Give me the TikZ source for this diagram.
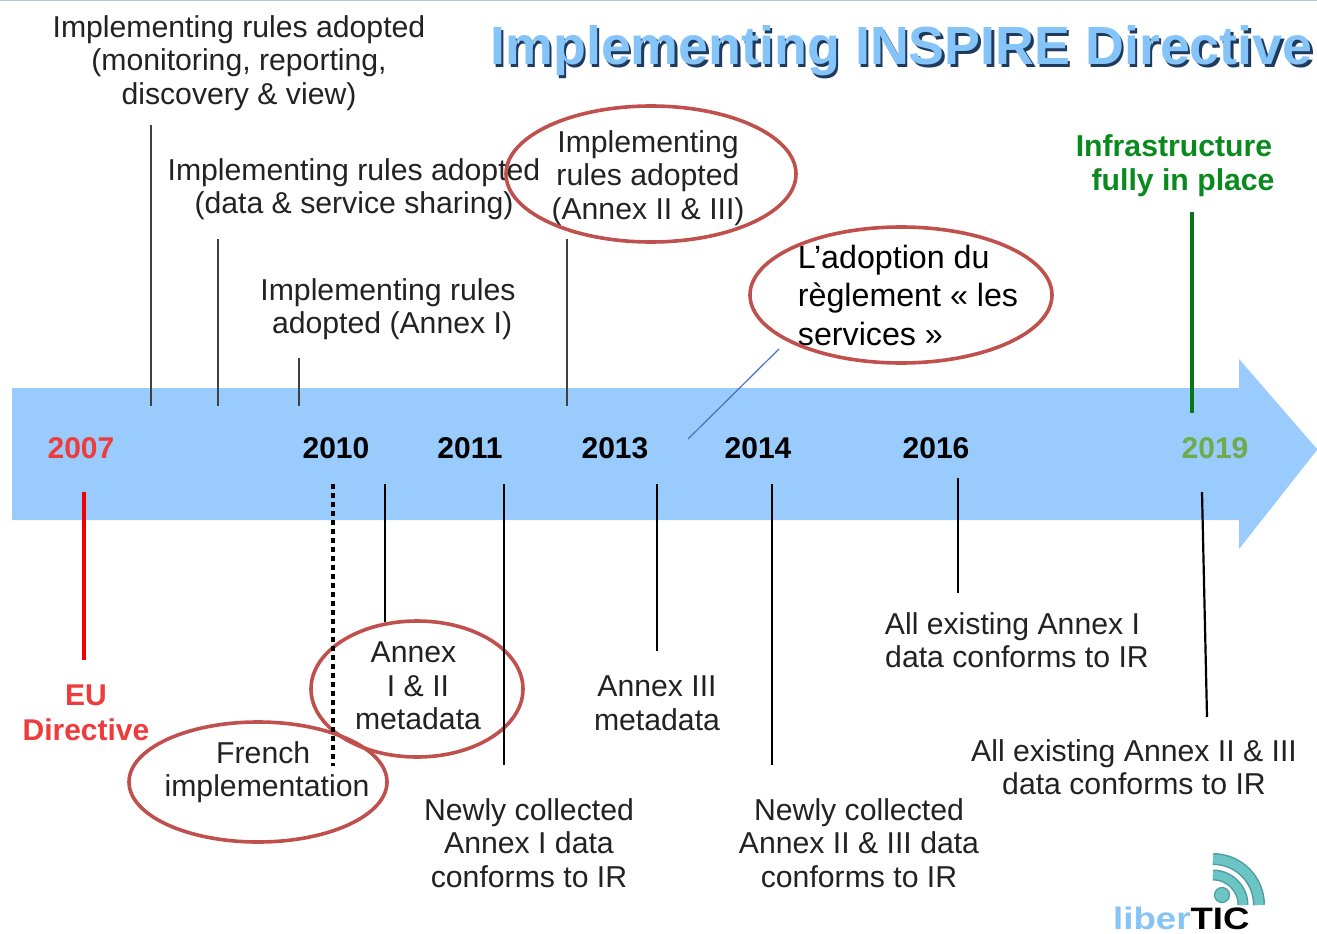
\documentclass[tikz,border=0pt]{standalone}
\usepackage{fontspec}
\setmainfont{Liberation Sans}
\definecolor{arrowblue}{HTML}{99CBFD}
\definecolor{ringred}{HTML}{C0504D}
\definecolor{titleblue}{HTML}{85C4F8}
\definecolor{titledark}{HTML}{1F3A5C}
\definecolor{yred}{HTML}{EE3B3B}
\definecolor{ygreen}{HTML}{6FAB4A}
\definecolor{dgreen}{HTML}{0A8A1E}
\definecolor{teal1}{HTML}{6CC5C5}
\definecolor{tealdark}{HTML}{4E9C9E}
\definecolor{logoblue}{HTML}{85C4F5}
\definecolor{txt}{HTML}{222222}
\tikzset{
  lbl/.style={font=\fontsize{30.2}{33.6}\selectfont, align=center, text=txt, inner sep=0pt},
  lblblack/.style={font=\fontsize{32.2}{38.5}\selectfont, align=left, text=black, inner sep=0pt},
  yr/.style={font=\fontsize{30}{33}\selectfont\bfseries, inner sep=0pt},
  tick/.style={draw=black!75, line width=1.1pt},
  tickb/.style={draw=black, line width=2.2pt},
  ringline/.style={draw=ringred, line width=3.6pt},
}
\begin{document}
\begin{tikzpicture}[x=1pt,y=-1pt]
\useasboundingbox (0,0) rectangle (1317,934);
\fill[white] (0,0) rectangle (1317,934);
\fill[fill={rgb,255:red,170;green,200;blue,220}] (0,0) rectangle (1317,1.5);
% arrow
\fill[arrowblue] (12,388) -- (1239,388) -- (1239,359) -- (1317,449) -- (1317,450) -- (1239,549) -- (1239,520) -- (12,520) -- cycle;
% title
\node[font=\fontsize{53.8}{60}\selectfont\bfseries, text=titledark, inner sep=0pt, anchor=center] at (904,53.5) {Implementing INSPIRE Directive};
\node[font=\fontsize{53.8}{60}\selectfont\bfseries, text=titleblue, inner sep=0pt, anchor=center] (title) at (901.5,51) {Implementing INSPIRE Directive};
% years
\node[yr,text=yred] (y2007) at (81,448) {2007};
\node[yr,text=black] (y2010) at (336,448) {2010};
\node[yr,text=black] (y2011) at (470,448) {2011};
\node[yr,text=black] (y2013) at (615,448) {2013};
\node[yr,text=black] (y2014) at (758,448) {2014};
\node[yr,text=black] (y2016) at (936,448) {2016};
\node[yr,text=ygreen] (y2019) at (1215,448) {2019};
% upper labels
\node[lbl] (a) at (239,63) {Implementing rules adopted\\(monitoring, reporting,\\discovery \& view)};
\node[lbl] (b) at (354,189) {Implementing rules adopted\\(data \& service sharing)};
\node[lbl] (c) at (388,309) {Implementing rules\\\hspace*{0.27em}adopted (Annex I)};
\node[lbl] (d) at (648,178) {Implementing\\rules adopted\\(Annex II \& III)};
\node[yr,text=dgreen,align=center,font=\fontsize{30.2}{34}\selectfont\bfseries] (infra) at (1174,166) {Infrastructure\\\hspace*{0.6em}fully in place};
\node[lblblack] (serv) at (908,295) {L’adoption du\\règlement « les\\services »};
% lower labels
\node[yr,text=yred,align=center,font=\fontsize{30}{35}\selectfont\bfseries] (eu) at (86,713) {EU\\Directive};
\node[lbl] (fr) at (267,772) {French\hspace*{0.25em}\\implementation};
\node[lbl] (m12) at (418,686) {Annex\hspace*{0.3em}\\I \& II\\metadata};
\node[lbl] (nc1) at (529,843) {Newly collected\\Annex I data\\conforms to IR};
\node[lbl] (m3) at (657,703) {Annex III\\metadata};
\node[lbl] (nc2) at (859,843) {Newly collected\\Annex II \& III data\\conforms to IR};
\node[lbl] (ex1) at (1017,640) {All existing Annex I\hspace*{0.3em}\\data conforms to IR};
\node[lbl] (ex2) at (1134,767) {All existing Annex II \& III\\data conforms to IR};
% rings
\draw[ringline] (651,174) ellipse (145 and 68);
\draw[ringline] (901,295) ellipse (151 and 68);
\draw[ringline] (417,689) ellipse (106 and 68);
\draw[ringline] (258,782) ellipse (129 and 60);
% connector ends
\coordinate (t1) at (151,125); \coordinate (t1b) at (151,406);
\coordinate (t2) at (218,239); \coordinate (t2b) at (218,406);
\coordinate (t3) at (299,358); \coordinate (t3b) at (299,406);
\coordinate (t4) at (567,239); \coordinate (t4b) at (567,406);
\coordinate (s1) at (779,349); \coordinate (s1b) at (688,439);
\coordinate (g1) at (1192,212); \coordinate (g1b) at (1192,413);
\coordinate (r1) at (84,492); \coordinate (r1b) at (84,660);
\coordinate (fr1) at (333,484); \coordinate (fr1b) at (333,766);
\coordinate (k1) at (385,484); \coordinate (k1b) at (385,622);
\coordinate (k2) at (504,484); \coordinate (k2b) at (504,765);
\coordinate (k3) at (657,484); \coordinate (k3b) at (657,651);
\coordinate (k4) at (772,484); \coordinate (k4b) at (772,765);
\coordinate (k5) at (958,478); \coordinate (k5b) at (958,593);
\coordinate (k6) at (1202,492); \coordinate (k6b) at (1207,717);
\draw[tick] (t1) -- (t1b);
\draw[tick] (t2) -- (t2b);
\draw[tick] (t3) -- (t3b);
\draw[tick] (t4) -- (t4b);
\draw[draw={rgb,255:red,68;green,114;blue,196},line width=1.2pt] (s1) -- (s1b);
\draw[dgreen!85!black,line width=4pt] (g1) -- (g1b);
\draw[red!95!black,line width=4pt] (r1) -- (r1b);
\draw[black,line width=4.5pt,dash pattern=on 4.5pt off 4.5pt] (fr1) -- (fr1b);
\draw[tickb] (k1) -- (k1b);
\draw[tickb] (k2) -- (k2b);
\draw[tickb] (k3) -- (k3b);
\draw[tickb] (k4) -- (k4b);
\draw[tickb] (k5) -- (k5b);
\draw[tickb] (k6) -- (k6b);
% logo
\draw[tealdark,line width=12pt] (1213,859) arc[start angle=-90,end angle=0,radius=46];
\draw[teal1,line width=9pt] (1213,859) arc[start angle=-90,end angle=0,radius=46];
\draw[tealdark,line width=11pt] (1213,875) arc[start angle=-90,end angle=0,radius=30];
\draw[teal1,line width=8pt] (1213,875) arc[start angle=-90,end angle=0,radius=30];
\fill[teal1,draw=tealdark,line width=1.2pt] (1222,895) circle (7.5);
\node[font=\fontsize{31}{33}\selectfont\bfseries, inner sep=0pt, anchor=base west, xscale=1.18] (logo) at (1113,929.5) {\textcolor{logoblue}{liber}\textcolor{black}{TIC}};
\end{tikzpicture}
\end{document}
